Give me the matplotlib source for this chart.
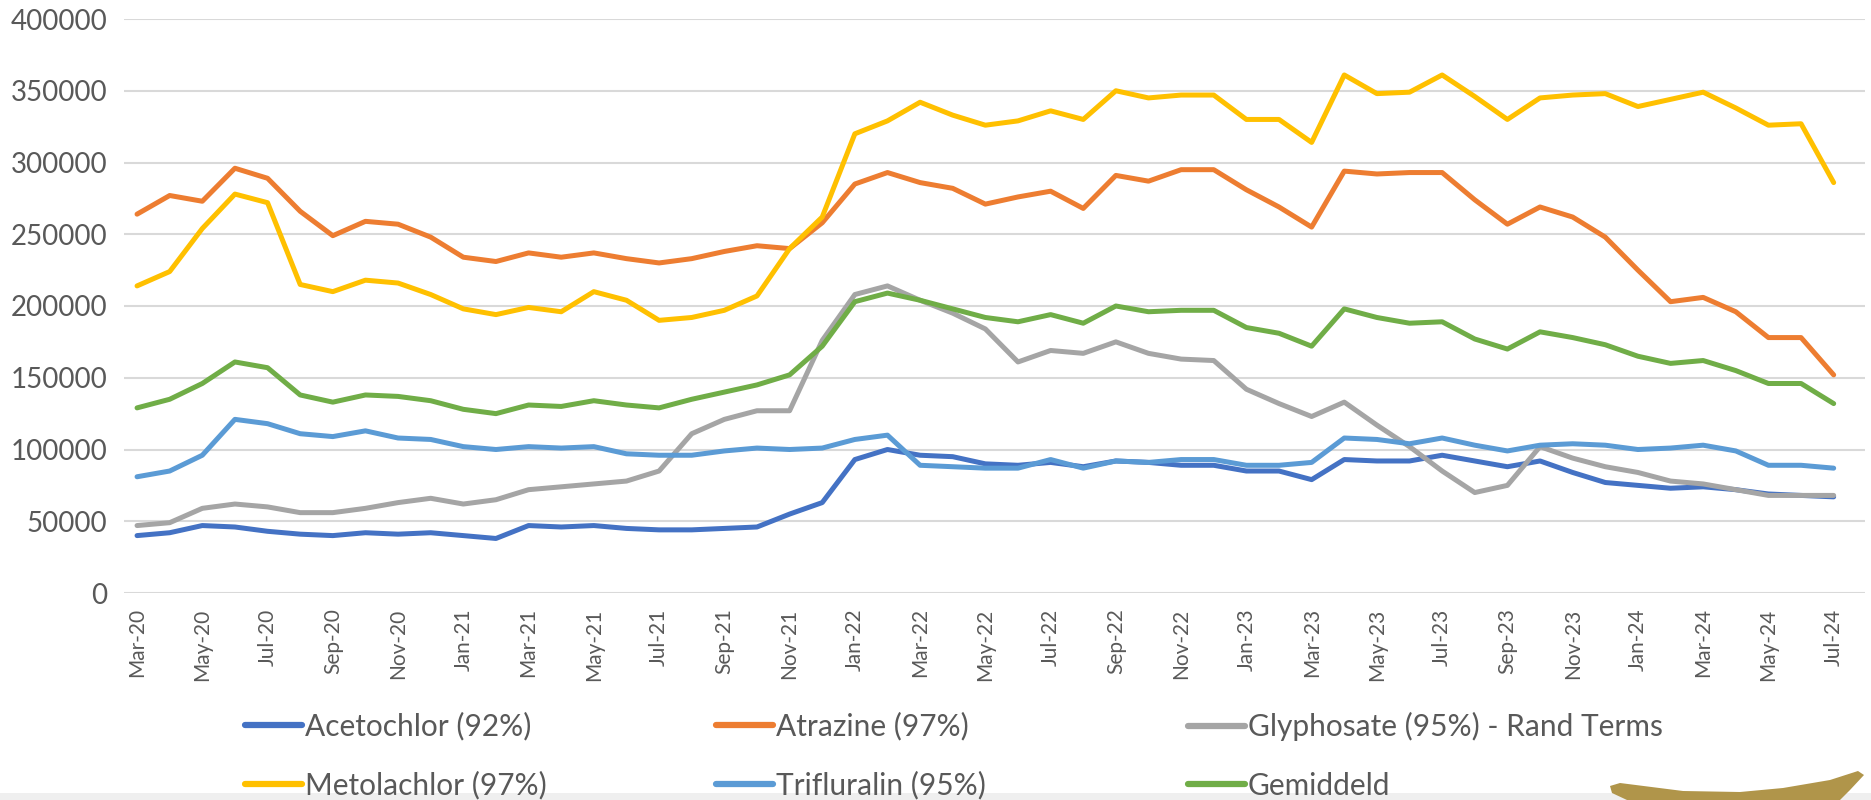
"""Monthly herbicide series, Mar-20 .. Jul-24, Excel-style line chart."""

import matplotlib

matplotlib.use("Agg")

import matplotlib.pyplot as plt
import numpy as np
from matplotlib.patches import Polygon, Rectangle

plt.rcParams["font.family"] = ["Lato", "DejaVu Sans"]

months = [
    "Mar-20", "Apr-20", "May-20", "Jun-20", "Jul-20", "Aug-20", "Sep-20", "Oct-20",
    "Nov-20", "Dec-20", "Jan-21", "Feb-21", "Mar-21", "Apr-21", "May-21", "Jun-21",
    "Jul-21", "Aug-21", "Sep-21", "Oct-21", "Nov-21", "Dec-21", "Jan-22", "Feb-22",
    "Mar-22", "Apr-22", "May-22", "Jun-22", "Jul-22", "Aug-22", "Sep-22", "Oct-22",
    "Nov-22", "Dec-22", "Jan-23", "Feb-23", "Mar-23", "Apr-23", "May-23", "Jun-23",
    "Jul-23", "Aug-23", "Sep-23", "Oct-23", "Nov-23", "Dec-23", "Jan-24", "Feb-24",
    "Mar-24", "Apr-24", "May-24", "Jun-24", "Jul-24",
]

acetochlor = [
    40000, 42000, 47000, 46000, 43000, 41000, 40000, 42000, 41000, 42000,
    40000, 38000, 47000, 46000, 47000, 45000, 44000, 44000, 45000, 46000,
    55000, 63000, 93000, 100000, 96000, 95000, 90000, 89000, 91000, 88000,
    92000, 91000, 89000, 89000, 85000, 85000, 79000, 93000, 92000, 92000,
    96000, 92000, 88000, 92000, 84000, 77000, 75000, 73000, 74000, 72000,
    69000, 68000, 67000,
]
atrazine = [
    264000, 277000, 273000, 296000, 289000, 266000, 249000, 259000, 257000, 248000,
    234000, 231000, 237000, 234000, 237000, 233000, 230000, 233000, 238000, 242000,
    240000, 258000, 285000, 293000, 286000, 282000, 271000, 276000, 280000, 268000,
    291000, 287000, 295000, 295000, 281000, 269000, 255000, 294000, 292000, 293000,
    293000, 274000, 257000, 269000, 262000, 248000, 225000, 203000, 206000, 196000,
    178000, 178000, 152000,
]
glyphosate = [
    47000, 49000, 59000, 62000, 60000, 56000, 56000, 59000, 63000, 66000,
    62000, 65000, 72000, 74000, 76000, 78000, 85000, 111000, 121000, 127000,
    127000, 176000, 208000, 214000, 204000, 195000, 184000, 161000, 169000, 167000,
    175000, 167000, 163000, 162000, 142000, 132000, 123000, 133000, 117000, 102000,
    85000, 70000, 75000, 102000, 94000, 88000, 84000, 78000, 76000, 72000,
    68000, 68000, 68000,
]
metolachlor = [
    214000, 224000, 254000, 278000, 272000, 215000, 210000, 218000, 216000, 208000,
    198000, 194000, 199000, 196000, 210000, 204000, 190000, 192000, 197000, 207000,
    240000, 262000, 320000, 329000, 342000, 333000, 326000, 329000, 336000, 330000,
    350000, 345000, 347000, 347000, 330000, 330000, 314000, 361000, 348000, 349000,
    361000, 346000, 330000, 345000, 347000, 348000, 339000, 344000, 349000, 338000,
    326000, 327000, 286000,
]
trifluralin = [
    81000, 85000, 96000, 121000, 118000, 111000, 109000, 113000, 108000, 107000,
    102000, 100000, 102000, 101000, 102000, 97000, 96000, 96000, 99000, 101000,
    100000, 101000, 107000, 110000, 89000, 88000, 87000, 87000, 93000, 87000,
    92000, 91000, 93000, 93000, 89000, 89000, 91000, 108000, 107000, 104000,
    108000, 103000, 99000, 103000, 104000, 103000, 100000, 101000, 103000, 99000,
    89000, 89000, 87000,
]
gemiddeld = [
    129000, 135000, 146000, 161000, 157000, 138000, 133000, 138000, 137000, 134000,
    128000, 125000, 131000, 130000, 134000, 131000, 129000, 135000, 140000, 145000,
    152000, 172000, 203000, 209000, 204000, 198000, 192000, 189000, 194000, 188000,
    200000, 196000, 197000, 197000, 185000, 181000, 172000, 198000, 192000, 188000,
    189000, 177000, 170000, 182000, 178000, 173000, 165000, 160000, 162000, 155000,
    146000, 146000, 132000,
]

series = [
    ("Acetochlor (92%)", acetochlor, "#4472C4"),
    ("Atrazine (97%)", atrazine, "#ED7D31"),
    ("Glyphosate (95%) - Rand Terms", glyphosate, "#A5A5A5"),
    ("Metolachlor (97%)", metolachlor, "#FFC000"),
    ("Trifluralin (95%)", trifluralin, "#5B9BD5"),
    ("Gemiddeld", gemiddeld, "#70AD47"),
]

W, H = 1871, 800
fig = plt.figure(figsize=(W / 100, H / 100), dpi=100)
ax = fig.add_axes([124 / W, 1 - 593 / H, (1865 - 124) / W, (593 - 19) / H])

x = np.arange(len(months))
lines = []
for name, values, color in series:
    (line,) = ax.plot(x, values, color=color, linewidth=3.6, solid_joinstyle="round",
                      solid_capstyle="round", label=name)
    lines.append(line)

ax.set_xlim(-0.4, 52.96)
ax.set_ylim(0, 400000)
ax.set_yticks(np.arange(0, 400001, 50000))
ax.set_yticklabels([str(v) for v in range(0, 400001, 50000)])
ax.set_xticks(x[::2])
ax.set_xticklabels(months[::2], rotation=90)
ax.tick_params(axis="y", length=0, pad=12, labelsize=20, labelcolor="#595959")
ax.tick_params(axis="x", length=0, pad=11, labelsize=15, labelcolor="#595959")
ax.grid(axis="y", color="#D9D9D9", linewidth=1.5)
ax.set_axisbelow(True)
for spine in ax.spines.values():
    spine.set_visible(False)

# Excel spaces legend columns evenly, so one small legend per column
column_x = [245, 716, 1188]
for col, left in enumerate(column_x):
    leg = fig.legend(
        [lines[col], lines[col + 3]],
        [series[col][0], series[col + 3][0]],
        loc="upper left",
        bbox_to_anchor=(left / W, 1 - 712 / H),
        frameon=False,
        fontsize=21.5,
        handlelength=1.9,
        handletextpad=0.1,
        labelspacing=1.02,
        borderpad=0,
        borderaxespad=0,
        labelcolor="#595959",
    )
    for handle in leg.legend_handles:
        handle.set_linewidth(4.5)

# light strip and gold swoosh at the bottom edge of the slide
fig.patches.append(Rectangle((0, 0), 1, 7 / H, transform=fig.transFigure,
                             facecolor="#EFEFEF", edgecolor="none"))
swoosh = [(1610, 786), (1620, 783), (1683, 791), (1740, 792), (1783, 788),
          (1830, 780), (1858, 771), (1864, 775), (1850, 790), (1840, 800),
          (1627, 800), (1612, 793)]
fig.patches.append(Polygon([(px / W, 1 - py / H) for px, py in swoosh], closed=True,
                           transform=fig.transFigure, facecolor="#B0954A",
                           edgecolor="none"))

fig.savefig("out.png", dpi=100)
